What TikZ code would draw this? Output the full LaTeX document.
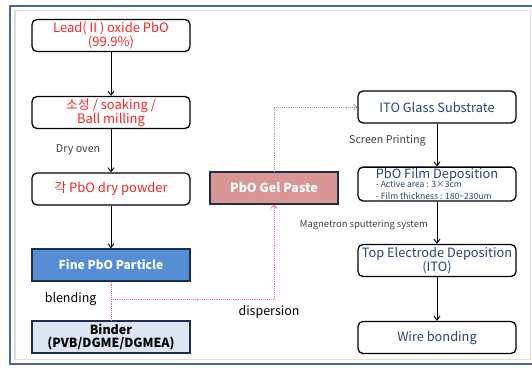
\documentclass[tikz,border=0pt]{standalone}
\usepackage{fontspec}
\setmainfont{Noto Sans CJK KR}
\usetikzlibrary{arrows.meta, positioning}
\definecolor{frameblue}{RGB}{68, 104, 160}
\definecolor{framegray}{RGB}{222, 222, 222}
\definecolor{stepred}{RGB}{255, 35, 35}
\definecolor{steptext}{RGB}{38, 70, 120}
\definecolor{fineblue}{RGB}{85, 142, 213}
\definecolor{binderblue}{RGB}{220, 230, 242}
\definecolor{pasterose}{RGB}{217, 150, 148}
\definecolor{navy}{RGB}{28, 45, 80}
\definecolor{blenddot}{RGB}{255, 105, 105}
\definecolor{printdot}{RGB}{140, 160, 190}

\begin{document}
\begin{tikzpicture}[x=1pt, y=-1pt,
    flow/.style={rectangle, rounded corners=5pt, draw=black, line width=1.3pt, fill=white,
                 minimum width=158pt, minimum height=32pt, align=center, inner sep=1pt},
    filled/.style={rectangle, draw=navy, line width=1.2pt,
                   minimum width=158pt, minimum height=32pt, align=center, inner sep=1pt},
    tag/.style={font=\fontsize{10.7}{12}\selectfont, text=black!75},
    flowarrow/.style={-{Straight Barb[length=4pt, width=6pt]}, line width=0.9pt}]

    \useasboundingbox (0,0) rectangle (532,367);

    % Frame
    \draw[frameblue, line width=2pt] (10,6) rectangle (545,364);
    \draw[framegray, line width=1.5pt] (15,10.5) rectangle (530.5,359.5);

    % Powder steps
    \node[flow, text=stepred, font=\fontsize{13}{14}\selectfont] (lead) at (111,35.5) {Lead(Ⅱ) oxide PbO\\(99.9\%)};
    \node[flow, text=stepred, font=\fontsize{13}{14}\selectfont] (mill) at (111,112.5) {소성 / soaking /\\Ball milling};
    \node[flow, text=stepred, font=\fontsize{13}{14}\selectfont] (powder) at (111,189) {각 PbO dry powder};
    \node[filled, fill=fineblue, text=white, font=\fontsize{12}{14}\selectfont\bfseries] (fine) at (111,265) {Fine PbO Particle};
    \node[filled, fill=binderblue, text=black, font=\fontsize{12.5}{13}\selectfont\bfseries] (binder) at (111,337) {Binder\\(PVB/DGME/DGMEA)};

    % Paste
    \node[filled, fill=pasterose, text=white, font=\fontsize{12.5}{14}\selectfont\bfseries,
          minimum width=128pt] (paste) at (274,188) {PbO Gel Paste};

    % Device steps
    \node[flow, text=steptext, font=\fontsize{12.8}{14}\selectfont] (ito) at (437,107) {ITO Glass Substrate};
    \node[flow, text=steptext, align=left] (film) at (437,184)
        {\fontsize{12.8}{12}\selectfont PbO Film Deposition\\[-2.5pt]
         \fontsize{8.6}{9}\selectfont - Active area : 3×3cm\\
         \fontsize{8.6}{9}\selectfont - Film thickness : 180\textasciitilde230um};
    \node[flow, text=steptext, font=\fontsize{12.8}{14}\selectfont] (top) at (437,260.5) {Top Electrode Deposition\\(ITO)};
    \node[flow, text=steptext, font=\fontsize{12.8}{14}\selectfont] (wire) at (437,337.5) {Wire bonding};

    % Connections
    \draw[flowarrow] (lead) -- (mill);
    \draw[flowarrow] (mill) -- node[tag, left=7pt, pos=0.49] {Dry oven} (powder);
    \draw[flowarrow] (powder) -- (fine);
    \draw[flowarrow] (ito) -- node[tag, left=7.5pt, pos=0.4] {Screen Printing} (film);
    \draw[flowarrow] (film) -- node[tag, left=5.5pt, pos=0.55, font=\fontsize{9.4}{11}\selectfont] {Magnetron sputtering system} (top);
    \draw[flowarrow] (top) -- (wire);

    % Blending and dispersion
    \coordinate (blend) at (111,299);
    \draw[blenddot, densely dotted, line width=0.9pt] (fine) -- (binder);
    \draw[blenddot, densely dotted, line width=0.9pt, -{Straight Barb[length=3pt, width=6pt]}] (blend) -| (paste);
    \node[font=\fontsize{12.5}{14}\selectfont, left=11pt of blend] {blending};
    \node[font=\fontsize{12.5}{14}\selectfont] at (269,312) {dispersion};

    % Printing
    \draw[printdot, densely dotted, line width=0.9pt, -{Straight Barb[length=3pt, width=6pt]}] (paste) |- (ito);
\end{tikzpicture}
\end{document}
